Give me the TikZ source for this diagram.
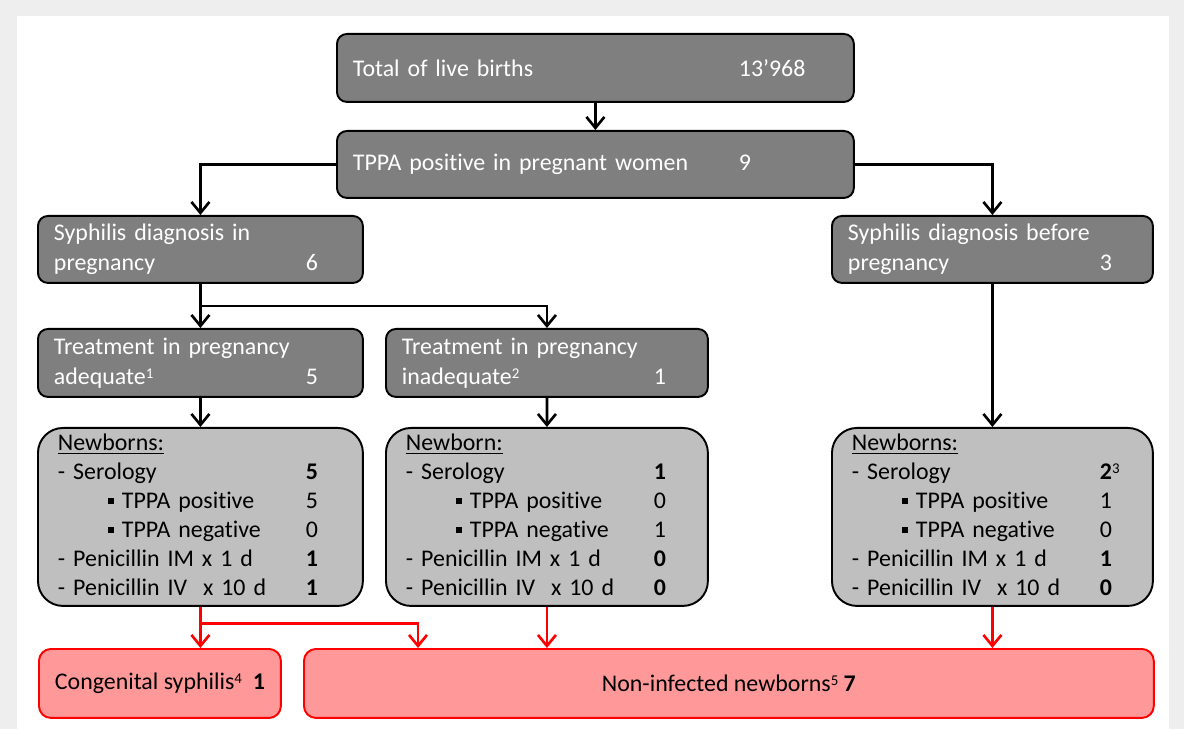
\documentclass[tikz,border=0pt]{standalone}
\usepackage{fontspec}
\setmainfont{Carlito}[Ligatures={TeX,NoCommon}]
\usetikzlibrary{arrows.meta,calc}
\definecolor{framegray}{HTML}{EEEEEE}
\definecolor{boxgray}{HTML}{7F7F7F}
\definecolor{nbgray}{HTML}{BFBFBF}
\definecolor{redfill}{HTML}{FF9999}
\tikzset{
  darkbox/.style={draw=black, line width=1.1pt, rounded corners=0.2cm, fill=boxgray,
    text=white, anchor=north west, inner xsep=0.32cm, inner ysep=0pt, align=left,
    font=\fontsize{13.6}{17}\selectfont},
  nbbox/.style={draw=black, line width=1.1pt, rounded corners=0.5cm, fill=nbgray,
    anchor=north west, inner xsep=0.4cm, inner ysep=0pt, align=left,
    minimum height=3.56cm, font=\fontsize{13.6}{16.5}\selectfont},
  redbox/.style={draw=red, line width=1.1pt, rounded corners=0.24cm, fill=redfill,
    anchor=north west, minimum height=1.38cm, font=\fontsize{13.6}{17}\selectfont},
  blkarr/.style={line width=1.5pt, -{Straight Barb[length=0.22cm,width=0.36cm]}},
  redarr/.style={blkarr, draw=red},
}
\newcommand{\sqbul}{\hspace*{1cm}\rule[0.08cm]{0.12cm}{0.12cm}\hspace{0.16cm}}
\newcommand{\fnmark}[1]{\raisebox{0.12cm}{\fontsize{8.5}{9}\selectfont #1}}
\begin{document}
\begin{tikzpicture}[x=0.02cm,y=-0.02cm]  % ------ live births / syphilis ------
    \fill[framegray] (0,0) rectangle (1184,729);
    \fill[white] (17,16) rectangle (1169,729);

    \node[darkbox, text width=9.7cm, minimum height=1.36cm] (total) at (336,33)
      {\makebox[7.72cm][l]{Total of live births}13’968};
    \node[darkbox, text width=9.7cm, minimum height=1.34cm] (tppa) at (336,130)
      {\makebox[7.72cm][l]{TPPA positive in pregnant women}9};
    \node[darkbox, text width=5.86cm, minimum height=1.34cm] (synpreg) at (37,215)
      {Syphilis diagnosis in\\\makebox[5.04cm][l]{pregnancy}6};
    \node[darkbox, text width=5.78cm, minimum height=1.34cm] (synbefore) at (831,215)
      {Syphilis diagnosis before\\\makebox[5.04cm][l]{pregnancy}3};
    \node[darkbox, text width=5.86cm, minimum height=1.36cm] (adq) at (37,328)
      {Treatment in pregnancy\\\makebox[5.04cm][l]{adequate\fnmark{1}}5};
    \node[darkbox, text width=5.8cm, minimum height=1.36cm] (inadq) at (385,328)
      {Treatment in pregnancy\\\makebox[5.04cm][l]{inadequate\fnmark{2}}1};

    \node[nbbox, text width=5.7cm] (nbadq) at (37,427) {%
      \begin{tabular}{@{}p{4.96cm}@{}l@{}}
        \underline{Newborns:} & \\
        - Serology & \textbf{5}\\
        \sqbul TPPA positive & 5\\
        \sqbul TPPA negative & 0\\
        - Penicillin IM x 1 d & \textbf{1}\\
        - Penicillin IV\ \ x 10 d & \textbf{1}
      \end{tabular}};
    \node[nbbox, text width=5.64cm] (nbinadq) at (385,427) {%
      \begin{tabular}{@{}p{4.96cm}@{}l@{}}
        \underline{Newborn:} & \\
        - Serology & \textbf{1}\\
        \sqbul TPPA positive & 0\\
        \sqbul TPPA negative & 1\\
        - Penicillin IM x 1 d & \textbf{0}\\
        - Penicillin IV\ \ x 10 d & \textbf{0}
      \end{tabular}};
    \node[nbbox, text width=5.62cm] (nbbefore) at (831,427) {%
      \begin{tabular}{@{}p{4.96cm}@{}l@{}}
        \underline{Newborns:} & \\
        - Serology & \textbf{2}\fnmark{3}\\
        \sqbul TPPA positive & 1\\
        \sqbul TPPA negative & 0\\
        - Penicillin IM x 1 d & \textbf{1}\\
        - Penicillin IV\ \ x 10 d & \textbf{0}
      \end{tabular}};

    \node[redbox, minimum width=4.84cm] (congen) at (38,648)
      {Congenital syphilis\fnmark{4}\ \ \textbf{1}};
    \node[redbox, minimum width=17cm] (noninf) at (303,648)
      {Non-infected newborns\fnmark{5} \textbf{7}};

    % black arrows
    \draw[blkarr] (total.south) -- (tppa.north);
    \draw[blkarr] (tppa.west) -| (synpreg.north);
    \draw[blkarr] (tppa.east) -| (synbefore.north);
    \draw[blkarr] (synpreg.south) -- (adq.north);
    \coordinate (fork1) at ($(synpreg.south)!0.5!(adq.north)$);
    \draw[blkarr] (fork1) -| (inadq.north);
    \draw[blkarr] (adq.south) -- (nbadq.north);
    \draw[blkarr] (inadq.south) -- (nbinadq.north);
    \draw[blkarr] (synbefore.south) -- (nbbefore.north);

    % red arrows
    \draw[redarr] (nbadq.south) -- (nbadq.south |- congen.north);
    \coordinate (fork2) at ($(nbadq.south)!0.4!(nbadq.south |- congen.north)$);
    \coordinate (nientry) at (418,648);
    \draw[redarr] (fork2) -| (nientry);
    \draw[redarr] (nbinadq.south) -- (nbinadq.south |- noninf.north);
    \draw[redarr] (nbbefore.south) -- (nbbefore.south |- noninf.north);
\end{tikzpicture}
\end{document}
